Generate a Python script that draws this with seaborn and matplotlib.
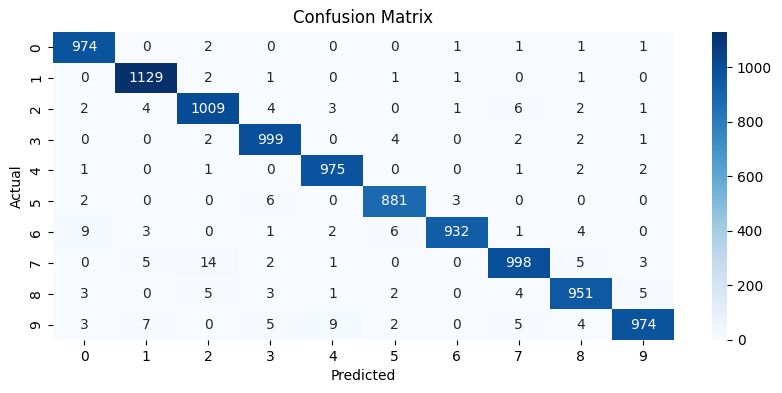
import matplotlib
matplotlib.use("Agg")
import matplotlib.pyplot as plt
import seaborn as sns
import numpy as np

# Class labels (digits 0-9)
labels = ['0', '1', '2', '3', '4', '5', '6', '7', '8', '9']

# Confusion matrix counts, one row per actual class
row_0 = [974, 0, 2, 0, 0, 0, 1, 1, 1, 1]
row_1 = [0, 1129, 2, 1, 0, 1, 1, 0, 1, 0]
row_2 = [2, 4, 1009, 4, 3, 0, 1, 6, 2, 1]
row_3 = [0, 0, 2, 999, 0, 4, 0, 2, 2, 1]
row_4 = [1, 0, 1, 0, 975, 0, 0, 1, 2, 2]
row_5 = [2, 0, 0, 6, 0, 881, 3, 0, 0, 0]
row_6 = [9, 3, 0, 1, 2, 6, 932, 1, 4, 0]
row_7 = [0, 5, 14, 2, 1, 0, 0, 998, 5, 3]
row_8 = [3, 0, 5, 3, 1, 2, 0, 4, 951, 5]
row_9 = [3, 7, 0, 5, 9, 2, 0, 5, 4, 974]

cm = np.array([row_0, row_1, row_2, row_3, row_4,
               row_5, row_6, row_7, row_8, row_9])

fig = plt.figure(figsize=(7.82, 3.93), dpi=100)
ax = fig.add_axes([0.0678, 0.135, 0.794, 0.784])
cax = fig.add_axes([0.9105, 0.135, 0.0192, 0.784])

sns.heatmap(cm, annot=True, fmt='d', cmap='Blues',
            xticklabels=labels, yticklabels=labels,
            ax=ax, cbar_ax=cax)

ax.set_title("Confusion Matrix", fontsize=12)
ax.set_xlabel("Predicted")
ax.set_ylabel("Actual")

fig.savefig("out.png", dpi=100)
